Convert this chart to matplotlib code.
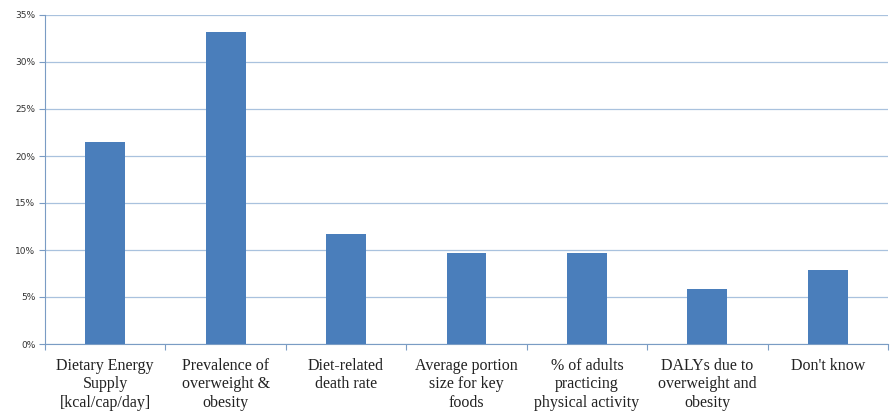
import matplotlib
matplotlib.use("Agg")
import matplotlib.pyplot as plt
from matplotlib.ticker import FuncFormatter, MultipleLocator

categories = [
    "Dietary Energy\nSupply\n[kcal/cap/day]",
    "Prevalence of\noverweight &\nobesity",
    "Diet-related\ndeath rate",
    "Average portion\nsize for key\nfoods",
    "% of adults\npracticing\nphysical activity",
    "DALYs due to\noverweight and\nobesity",
    "Don't know",
]
values = [0.215, 0.332, 0.117, 0.097, 0.097, 0.059, 0.079]

bar_color = "#4a7ebb"
grid_color = "#a9c2de"
axis_color = "#7a9cc4"

fig = plt.figure(figsize=(8.9, 4.19), dpi=100)
ax = fig.add_axes([45/890, 75/419, 843/890, 329/419])

x = list(range(len(categories)))
ax.bar(x, values, width=0.33, color=bar_color, zorder=3)

ax.set_xlim(-0.5, len(categories) - 0.5)
ax.set_ylim(0, 0.35)
ax.yaxis.set_major_locator(MultipleLocator(0.05))
ax.yaxis.set_major_formatter(FuncFormatter(lambda v, p: f"{v*100:.0f}%"))
ax.grid(axis="y", color=grid_color, linewidth=0.9, zorder=0)

ax.set_xticks([i + 0.5 for i in range(-1, len(categories))], minor=False)
ax.set_xticklabels([])
ax.set_xticks(x, minor=True)
ax.set_xticklabels(categories, minor=True, fontfamily="Liberation Serif", fontsize=11.5, color="#222222", linespacing=1.2)
ax.tick_params(axis="x", which="minor", length=0, pad=10)
ax.tick_params(axis="x", which="major", length=4, color=axis_color, direction="out")
ax.tick_params(axis="y", length=4, color=axis_color, labelsize=6.5, labelcolor="#333333", pad=3)

for side in ["top", "right"]:
    ax.spines[side].set_visible(False)
ax.spines["left"].set_color(axis_color)
ax.spines["bottom"].set_color(axis_color)

fig.savefig("out.png", dpi=100)
